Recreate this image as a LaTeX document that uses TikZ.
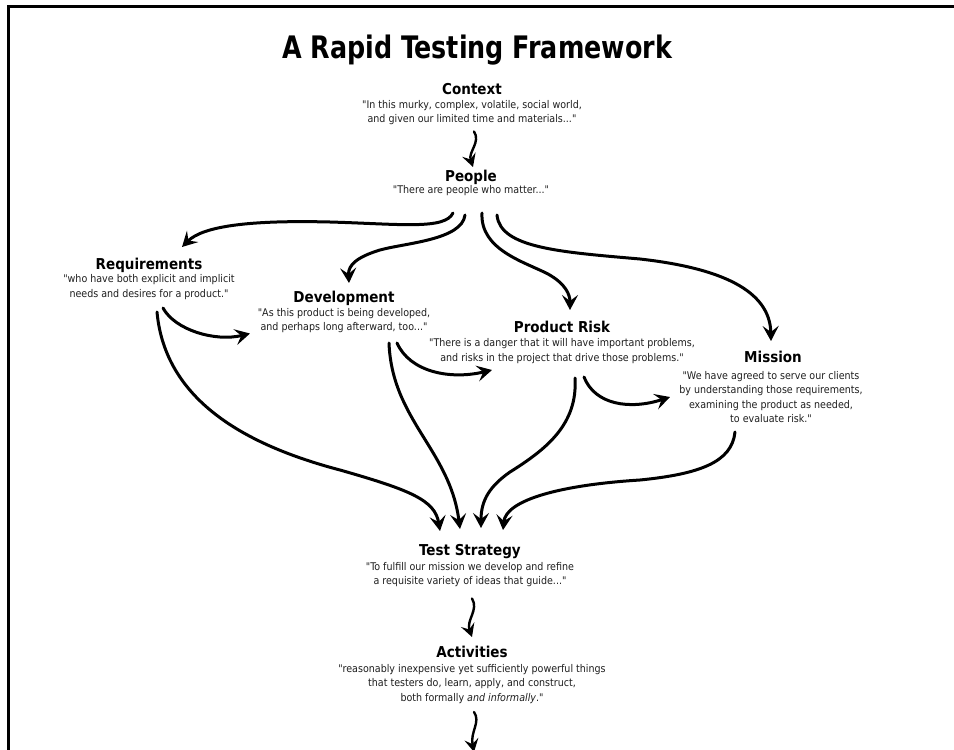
\documentclass[tikz,border=0pt]{standalone}
\usepackage{fontspec}
\setmainfont{DejaVu Sans Condensed}[Ligatures=TeXOff]
\usetikzlibrary{arrows.meta,calc}

\tikzset{
  bigtitle/.style={font=\fontsize{31}{34}\selectfont\bfseries, inner sep=0pt, anchor=base},
  heading/.style={font=\fontsize{15}{17}\selectfont\bfseries, inner sep=0pt, anchor=base},
  saying/.style={font=\fontsize{10.6}{14.5}\selectfont, text=black!88, align=center, inner sep=0pt, anchor=center},
  flowarrow/.style={line width=3pt, line cap=round, -{Stealth[length=15pt,width=16pt,inset=6pt]}},
  steparrow/.style={line width=2.4pt, line cap=round, -{Stealth[length=13pt,width=14pt,inset=5pt]}},
}

\begin{document}
\begin{tikzpicture}[x=1pt,y=-1pt]
  \useasboundingbox (0,0) rectangle (954,750);
  \fill[white] (0,0) rectangle (954,750);
  % frame along the left and top edges
  \draw[line width=3pt] (8,750) -- (8,6) -- (954,6);

  \node[bigtitle] (title) at (477,58) {\scalebox{0.91}[1]{A Rapid Testing Framework}};

  % concepts: heading plus quoted description
  \node[heading] (ctxh) at (472,94) {Context};
  \node[saying]  (ctxq) at (472,112.5) {"In this murky, complex, volatile, social world,\\and given our limited time and materials..."};

  \node[heading] (peoh) at (471,181) {People};
  \node[saying]  (peoq) at (471,191) {"There are people who matter..."};

  \node[heading] (reqh) at (149,269) {Requirements};
  \node[saying]  (reqq) at (149,287) {"who have both explicit and implicit\\needs and desires for a product."};

  \node[heading] (devh) at (344,302) {Development};
  \node[saying]  (devq) at (344,320.5) {"As this product is being developed,\\and perhaps long afterward, too..."};

  \node[heading] (prh) at (562,332) {Product Risk};
  \node[saying]  (prq) at (562,351) {"There is a danger that it will have important problems,\\and risks in the project that drive those problems."};

  \node[heading] (mish) at (773,362) {Mission};
  \node[saying]  (misq) at (771,397) {"We have agreed to serve our clients\\by understanding those requirements,\\examining the product as needed,\\to evaluate risk."};

  \node[heading] (tsh) at (470,555) {Test Strategy};
  \node[saying]  (tsq) at (470,574.5) {"To fulfill our mission we develop and refine\\a requisite variety of ideas that guide..."};

  \node[heading] (acth) at (472,657) {Activities};
  \node[saying]  (actq) at (472,684) {"reasonably inexpensive yet sufficiently powerful things\\that testers do, learn, apply, and construct,\\both formally \textit{and informally}."};

  \coordinate (onward) at (474,752);

  % connectors
  \draw[steparrow] ($(ctxq.center)+(2,19)$) .. controls (481,142) and (468,152) .. ($(peoh.base)+(2,-14)$);

  \draw[flowarrow] ($(peoq.center)+(-18,22)$) .. controls (445,230) and (400,224) .. (330,222)
        .. controls (250,220) and (203,226) .. ($(reqh.base)+(33,-22)$);
  \draw[flowarrow] ($(peoq.center)+(-6,24)$) .. controls (462,240) and (405,243) .. (380,250)
        .. controls (357,257) and (348,265) .. ($(devh.base)+(5,-19)$);
  \draw[flowarrow] ($(peoq.center)+(11,22)$) .. controls (480,250) and (525,262) .. (548,274)
        .. controls (566,284) and (570,295) .. ($(prh.base)+(8,-22)$);
  \draw[flowarrow] ($(peoq.center)+(26,24)$) .. controls (500,248) and (560,252) .. (640,259)
        .. controls (720,268) and (770,290) .. ($(mish.base)+(-2,-21)$);

  \draw[flowarrow] ($(reqq.center)+(14,21)$) .. controls (175,330) and (215,342) .. ($(devq.center)+(-94,13)$);
  \draw[flowarrow] ($(reqq.center)+(8,25)$) .. controls (165,400) and (245,445) .. (340,470)
        .. controls (410,490) and (435,500) .. ($(tsh.base)+(-30,-24)$);

  \draw[flowarrow] ($(devq.center)+(53,22.5)$) .. controls (410,372) and (450,380) .. ($(prq.center)+(-70,19)$);
  \draw[flowarrow] ($(devq.center)+(45,22.5)$) .. controls (392,420) and (450,450) .. ($(tsh.base)+(-10,-26)$);

  \draw[flowarrow] ($(prq.center)+(13,27)$) .. controls (578,425) and (545,450) .. (510,472)
        .. controls (490,486) and (481,500) .. ($(tsh.base)+(11,-27)$);
  \draw[flowarrow] ($(prq.center)+(22,26)$) .. controls (595,405) and (630,410) .. ($(misq.center)+(-101,0)$);

  \draw[flowarrow] ($(misq.center)+(-36,35)$) .. controls (732,462) and (700,474) .. (640,480)
        .. controls (560,485) and (506,500) .. ($(tsh.base)+(33,-25)$);

  \draw[steparrow] ($(tsq.center)+(2,24)$) .. controls (479,610) and (466,620) .. ($(acth.base)+(0,-20)$);
  \draw[steparrow] ($(actq.center)+(2,28)$) .. controls (481,722) and (470,732) .. (onward);
\end{tikzpicture}
\end{document}
